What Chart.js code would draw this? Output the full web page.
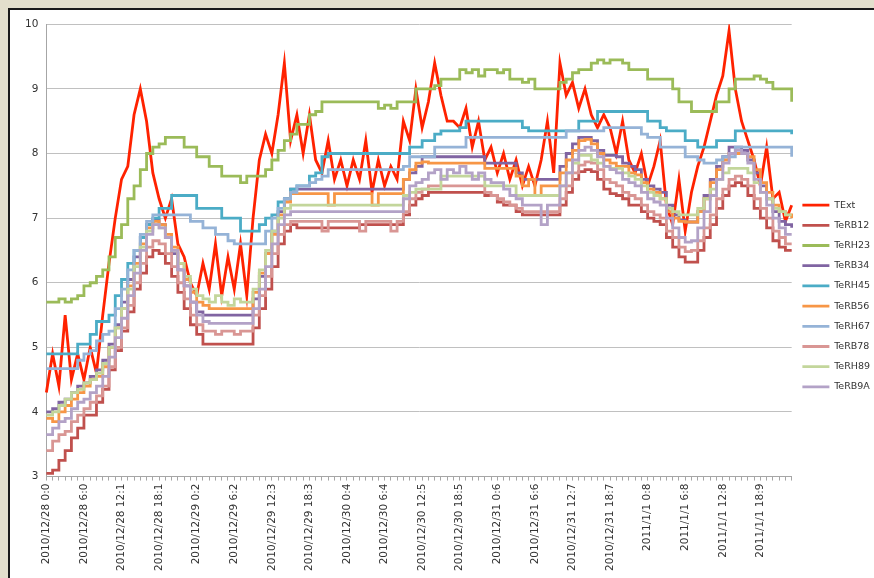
<!DOCTYPE html>
<html>
<head>
<meta charset="utf-8">
<script src="https://cdn.jsdelivr.net/npm/chart.js@4.4.0/dist/chart.umd.min.js"></script>
<style>
  html, body { margin: 0; padding: 0; background: #e3dfcc; overflow: hidden; }
  #frame {
    position: absolute; left: 8px; top: 8px; width: 900px; height: 600px;
    background: #fff; border-left: 2px solid #1a1a1a; border-top: 2px solid #1a1a1a;
  }
  #chart { position: absolute; left: 0; top: 0; }
</style>
</head>
<body>
<div id="frame"><canvas id="chart" width="870" height="568"></canvas></div>
<script>
// Temperature logs, one value per hour, 2010/12/28 0:00 -> 2011/1/1 23:00

const tickLabels = [
    '2010/12/28 0:0', '2010/12/28 6:0', '2010/12/28 12:1', '2010/12/28 18:1',
    '2010/12/29 0:2', '2010/12/29 6:2', '2010/12/29 12:3', '2010/12/29 18:3',
    '2010/12/30 0:4', '2010/12/30 6:4', '2010/12/30 12:5', '2010/12/30 18:5',
    '2010/12/31 0:6', '2010/12/31 6:6', '2010/12/31 12:7', '2010/12/31 18:7',
    '2011/1/1 0:8', '2011/1/1 6:8', '2011/1/1 12:8', '2011/1/1 18:9'
];
const pointsPerLabel = 6;

const seriesNames = ['TExt', 'TeRB12', 'TeRH23', 'TeRB34', 'TeRH45', 'TeRB56', 'TeRH67', 'TeRB78', 'TeRH89', 'TeRB9A'];

const tExt = [
    4.3, 4.9, 4.4, 5.5, 4.5, 4.9, 4.5, 5.0, 4.6, 5.5, 6.3, 7.0,
    7.6, 7.8, 8.6, 9.0, 8.5, 7.7, 7.3, 7.0, 7.3, 6.6, 6.4, 6.0,
    5.8, 6.3, 5.9, 6.6, 5.8, 6.4, 5.9, 6.6, 5.8, 7.0, 7.9, 8.3,
    8.0, 8.6, 9.4, 8.2, 8.6, 8.0, 8.6, 7.9, 7.7, 8.2, 7.6, 7.9,
    7.5, 7.9, 7.6, 8.2, 7.4, 7.9, 7.5, 7.8, 7.6, 8.5, 8.2, 9.0,
    8.4, 8.8, 9.4, 8.9, 8.5, 8.5, 8.4, 8.7, 8.1, 8.5, 7.9, 8.1,
    7.7, 8.0, 7.6, 7.9, 7.5, 7.8, 7.5, 7.9, 8.5, 7.7, 9.4, 8.9,
    9.1, 8.7, 9.0, 8.6, 8.4, 8.6, 8.4, 8.0, 8.5, 7.9, 7.7, 8.0,
    7.5, 7.8, 8.2, 7.2, 6.9, 7.6, 6.8, 7.4, 7.8, 8.1, 8.5, 8.9,
    9.2, 9.9, 9.0, 8.5, 8.2, 7.9, 7.5, 8.1, 7.3, 7.4, 6.95, 7.2
];
const teRB12 = [
    3.05, 3.1, 3.25, 3.4, 3.6, 3.75, 3.95, 3.95, 4.15, 4.35, 4.65, 4.95,
    5.25, 5.55, 5.9, 6.15, 6.4, 6.5, 6.45, 6.3, 6.1, 5.85, 5.6, 5.35,
    5.2, 5.05, 5.05, 5.05, 5.05, 5.05, 5.05, 5.05, 5.05, 5.3, 5.6, 5.9,
    6.25, 6.6, 6.8, 6.9, 6.85, 6.85, 6.85, 6.85, 6.85, 6.85, 6.85, 6.85,
    6.85, 6.85, 6.9, 6.9, 6.9, 6.9, 6.9, 6.9, 6.9, 7.05, 7.2, 7.3,
    7.35, 7.4, 7.4, 7.4, 7.4, 7.4, 7.4, 7.4, 7.4, 7.4, 7.35, 7.35,
    7.25, 7.2, 7.2, 7.1, 7.05, 7.05, 7.05, 7.05, 7.05, 7.05, 7.2, 7.4,
    7.6, 7.72, 7.75, 7.72, 7.6, 7.45, 7.38, 7.35, 7.3, 7.2, 7.2, 7.1,
    7.0, 6.95, 6.9, 6.7, 6.55, 6.4, 6.32, 6.32, 6.5, 6.7, 6.9, 7.15,
    7.35, 7.5, 7.55, 7.5, 7.35, 7.15, 7.0, 6.85, 6.65, 6.55, 6.5, 6.5
];
const teRH23 = [
    5.7, 5.7, 5.75, 5.7, 5.75, 5.8, 5.95, 6.0, 6.1, 6.2, 6.4, 6.7,
    6.9, 7.3, 7.5, 7.75, 8.0, 8.1, 8.15, 8.25, 8.25, 8.25, 8.1, 8.1,
    7.95, 7.95, 7.8, 7.8, 7.65, 7.65, 7.65, 7.55, 7.65, 7.65, 7.65, 7.75,
    7.9, 8.05, 8.2, 8.3, 8.45, 8.45, 8.6, 8.65, 8.8, 8.8, 8.8, 8.8,
    8.8, 8.8, 8.8, 8.8, 8.8, 8.7, 8.75, 8.7, 8.8, 8.8, 8.8, 9.0,
    9.0, 9.0, 9.05, 9.15, 9.15, 9.15, 9.3, 9.25, 9.3, 9.2, 9.3, 9.3,
    9.25, 9.3, 9.15, 9.15, 9.1, 9.15, 9.0, 9.0, 9.0, 9.0, 9.1, 9.15,
    9.25, 9.3, 9.3, 9.4, 9.45, 9.4, 9.45, 9.45, 9.4, 9.3, 9.3, 9.3,
    9.15, 9.15, 9.15, 9.15, 9.0, 8.8, 8.8, 8.65, 8.65, 8.65, 8.65, 8.8,
    8.8, 9.0, 9.15, 9.15, 9.15, 9.2, 9.15, 9.1, 9.0, 9.0, 9.0, 8.8
];
const teRB34 = [
    4.0, 4.05, 4.15, 4.2, 4.3, 4.4, 4.45, 4.55, 4.65, 4.8, 5.05, 5.35,
    5.7, 6.05, 6.4, 6.7, 6.9, 6.97, 6.9, 6.7, 6.45, 6.2, 5.95, 5.7,
    5.55, 5.5, 5.5, 5.5, 5.5, 5.5, 5.5, 5.5, 5.5, 5.75, 6.1, 6.45,
    6.8, 7.1, 7.3, 7.45, 7.45, 7.45, 7.45, 7.45, 7.45, 7.45, 7.45, 7.45,
    7.45, 7.45, 7.45, 7.45, 7.45, 7.45, 7.45, 7.45, 7.45, 7.6, 7.7, 7.8,
    7.95, 7.95, 7.95, 7.95, 7.95, 7.95, 7.95, 7.95, 7.95, 7.95, 7.85, 7.85,
    7.85, 7.85, 7.85, 7.7, 7.6, 7.6, 7.6, 7.6, 7.6, 7.6, 7.8, 8.0,
    8.15, 8.25, 8.25, 8.2, 8.05, 7.97, 7.97, 7.95, 7.85, 7.8, 7.75, 7.6,
    7.5, 7.45, 7.4, 7.2, 7.05, 6.97, 6.94, 6.94, 7.1, 7.35, 7.6, 7.8,
    7.95, 8.1, 8.1, 8.05, 7.9, 7.7, 7.5, 7.3, 7.1, 6.95, 6.9, 6.85
];
const teRH45 = [
    4.9, 4.9, 4.9, 4.9, 4.9, 5.05, 5.05, 5.2, 5.4, 5.4, 5.5, 5.8,
    6.05, 6.3, 6.5, 6.7, 6.9, 7.0, 7.15, 7.15, 7.35, 7.35, 7.35, 7.35,
    7.15, 7.15, 7.15, 7.15, 7.0, 7.0, 7.0, 6.8, 6.8, 6.8, 6.9, 7.0,
    7.05, 7.25, 7.3, 7.45, 7.5, 7.5, 7.65, 7.7, 7.95, 8.0, 8.0, 8.0,
    8.0, 8.0, 8.0, 8.0, 8.0, 8.0, 8.0, 8.0, 8.0, 8.0, 8.1, 8.1,
    8.2, 8.2, 8.3, 8.35, 8.35, 8.35, 8.4, 8.5, 8.5, 8.5, 8.5, 8.5,
    8.5, 8.5, 8.5, 8.5, 8.4, 8.35, 8.35, 8.35, 8.35, 8.35, 8.35, 8.35,
    8.35, 8.5, 8.5, 8.5, 8.65, 8.65, 8.65, 8.65, 8.65, 8.65, 8.65, 8.65,
    8.5, 8.5, 8.4, 8.35, 8.35, 8.35, 8.2, 8.2, 8.1, 8.1, 8.1, 8.2,
    8.2, 8.2, 8.35, 8.35, 8.35, 8.35, 8.35, 8.35, 8.35, 8.35, 8.35, 8.3
];
const teRB56 = [
    3.9, 3.85, 4.0, 4.1, 4.2, 4.3, 4.4, 4.5, 4.55, 4.7, 5.0, 5.3,
    5.6, 5.95, 6.3, 6.6, 6.85, 6.95, 6.9, 6.75, 6.55, 6.3, 6.05, 5.85,
    5.7, 5.65, 5.6, 5.6, 5.6, 5.6, 5.6, 5.6, 5.6, 5.85, 6.15, 6.45,
    6.75, 7.05, 7.25, 7.38, 7.38, 7.38, 7.38, 7.38, 7.38, 7.2, 7.38, 7.38,
    7.38, 7.38, 7.38, 7.38, 7.2, 7.38, 7.38, 7.38, 7.38, 7.6, 7.75, 7.85,
    7.87, 7.85, 7.85, 7.85, 7.85, 7.85, 7.85, 7.85, 7.85, 7.85, 7.77, 7.77,
    7.77, 7.77, 7.77, 7.65, 7.5, 7.6, 7.35, 7.5, 7.5, 7.5, 7.7, 7.9,
    8.05, 8.2, 8.22, 8.15, 8.0, 7.9, 7.85, 7.8, 7.8, 7.7, 7.67, 7.55,
    7.45, 7.4, 7.3, 7.1, 7.0, 6.95, 6.94, 6.94, 7.1, 7.3, 7.55, 7.75,
    7.9, 8.0, 8.0, 8.0, 7.95, 7.75, 7.55, 7.4, 7.2, 7.1, 7.05, 7.0
];
const teRH67 = [
    4.67, 4.67, 4.67, 4.67, 4.67, 4.8, 4.9, 4.95, 5.1, 5.2, 5.25, 5.6,
    5.9, 6.2, 6.5, 6.75, 6.95, 7.05, 7.05, 7.05, 7.05, 7.05, 7.05, 6.95,
    6.95, 6.85, 6.85, 6.75, 6.75, 6.65, 6.6, 6.6, 6.6, 6.6, 6.6, 6.8,
    7.0, 7.15, 7.3, 7.4, 7.5, 7.5, 7.55, 7.6, 7.65, 7.75, 7.75, 7.75,
    7.75, 7.75, 7.75, 7.75, 7.75, 7.75, 7.75, 7.75, 7.75, 7.8, 7.95, 7.95,
    7.95, 7.95, 8.1, 8.1, 8.1, 8.1, 8.1, 8.25, 8.25, 8.25, 8.25, 8.25,
    8.25, 8.25, 8.25, 8.25, 8.25, 8.25, 8.25, 8.25, 8.25, 8.25, 8.25, 8.35,
    8.35, 8.35, 8.35, 8.35, 8.35, 8.4, 8.4, 8.4, 8.4, 8.4, 8.4, 8.3,
    8.25, 8.25, 8.1, 8.1, 8.1, 8.1, 7.95, 7.95, 7.9, 7.85, 7.85, 7.9,
    7.95, 7.95, 8.1, 8.1, 8.1, 8.1, 8.1, 8.1, 8.1, 8.1, 8.1, 7.95
];
const teRB78 = [
    3.4, 3.55, 3.65, 3.7, 3.85, 3.95, 4.05, 4.15, 4.25, 4.4, 4.7, 5.0,
    5.3, 5.65, 6.0, 6.3, 6.55, 6.65, 6.6, 6.45, 6.25, 6.0, 5.75, 5.5,
    5.35, 5.25, 5.25, 5.2, 5.25, 5.25, 5.2, 5.25, 5.25, 5.5, 5.8, 6.1,
    6.45, 6.75, 6.9, 6.95, 6.95, 6.95, 6.95, 6.95, 6.8, 6.95, 6.95, 6.95,
    6.95, 6.95, 6.8, 6.95, 6.95, 6.95, 6.95, 6.8, 6.95, 7.1, 7.3, 7.4,
    7.45, 7.5, 7.5, 7.5, 7.5, 7.5, 7.5, 7.5, 7.5, 7.5, 7.4, 7.35,
    7.3, 7.25, 7.2, 7.15, 7.1, 7.1, 7.1, 7.1, 7.1, 7.1, 7.3, 7.5,
    7.7, 7.82, 7.87, 7.85, 7.75, 7.6, 7.55, 7.5, 7.4, 7.35, 7.3, 7.2,
    7.1, 7.05, 7.0, 6.8, 6.7, 6.55, 6.48, 6.5, 6.65, 6.85, 7.05, 7.3,
    7.45, 7.6, 7.65, 7.6, 7.5, 7.3, 7.15, 7.0, 6.8, 6.7, 6.6, 6.6
];
const teRH89 = [
    3.95, 4.0, 4.1, 4.2, 4.3, 4.35, 4.45, 4.5, 4.6, 4.75, 5.0, 5.3,
    5.6, 5.9, 6.25, 6.55, 6.8, 6.9, 6.85, 6.7, 6.5, 6.3, 6.1, 5.9,
    5.8, 5.75, 5.7, 5.8, 5.7, 5.65, 5.75, 5.7, 5.7, 5.9, 6.2, 6.5,
    6.8, 7.0, 7.15, 7.2, 7.2, 7.2, 7.2, 7.2, 7.2, 7.2, 7.2, 7.2,
    7.2, 7.2, 7.2, 7.2, 7.2, 7.2, 7.2, 7.2, 7.2, 7.35, 7.4, 7.45,
    7.45, 7.45, 7.45, 7.65, 7.65, 7.65, 7.65, 7.65, 7.65, 7.65, 7.5, 7.5,
    7.5, 7.5, 7.5, 7.35, 7.35, 7.35, 7.35, 7.35, 7.35, 7.35, 7.5, 7.7,
    7.85, 7.97, 7.97, 7.9, 7.85, 7.8, 7.77, 7.77, 7.7, 7.65, 7.6, 7.5,
    7.4, 7.35, 7.3, 7.15, 7.1, 7.05, 7.05, 7.05, 7.15, 7.3, 7.45, 7.6,
    7.7, 7.77, 7.77, 7.77, 7.7, 7.55, 7.4, 7.3, 7.15, 7.1, 7.05, 7.05
];
const teRB9A = [
    3.65, 3.75, 3.85, 3.9, 4.05, 4.15, 4.2, 4.3, 4.4, 4.55, 4.85, 5.15,
    5.45, 5.8, 6.15, 6.5, 6.75, 6.9, 6.85, 6.7, 6.5, 6.2, 5.95, 5.7,
    5.5, 5.4, 5.37, 5.37, 5.37, 5.37, 5.37, 5.37, 5.37, 5.6, 5.9, 6.25,
    6.6, 6.9, 7.05, 7.1, 7.1, 7.1, 7.1, 7.1, 7.1, 7.1, 7.1, 7.1,
    7.1, 7.1, 7.1, 7.1, 7.1, 7.1, 7.1, 7.1, 7.1, 7.3, 7.5, 7.55,
    7.6, 7.7, 7.75, 7.6, 7.75, 7.7, 7.8, 7.7, 7.6, 7.7, 7.6, 7.55,
    7.55, 7.45, 7.35, 7.3, 7.2, 7.2, 7.2, 6.9, 7.2, 7.2, 7.5, 7.7,
    7.9, 8.05, 8.1, 8.05, 7.95, 7.8, 7.75, 7.7, 7.6, 7.55, 7.5, 7.4,
    7.3, 7.25, 7.2, 7.0, 6.85, 6.7, 6.63, 6.65, 6.85, 7.1, 7.35, 7.6,
    7.85, 8.0, 8.05, 8.0, 7.85, 7.6, 7.4, 7.2, 7.0, 6.85, 6.75, 6.75
];

const seriesValues = [tExt, teRB12, teRH23, teRB34, teRH45, teRB56, teRH67, teRB78, teRH89, teRB9A];
const seriesColors = ['#ff2200', '#c0504d', '#9bbb59', '#8064a2', '#4bacc6', '#f79646', '#95b3d7', '#d99694', '#c3d69b', '#b3a2c7'];

// one category per hour, only every 6th gets a printed label
const categories = [];
tickLabels.forEach(t => {
    categories.push(t);
    for (let k = 1; k < pointsPerLabel; k++) categories.push('');
});

const FONT = 'DejaVu Sans, Verdana, sans-serif';

new Chart(document.getElementById('chart'), {
    type: 'line',
    data: {
        labels: categories,
        datasets: seriesNames.map((name, i) => ({
            label: name,
            data: seriesValues[i],
            borderColor: seriesColors[i],
            backgroundColor: seriesColors[i],
            borderWidth: 2.8,
            pointRadius: 0,
            tension: 0,
            stepped: i === 0 ? false : 'before',
            order: seriesNames.length - i   // later series drawn on top, like Excel
        }))
    },
    options: {
        responsive: false,
        animation: false,
        layout: { padding: { left: 7, top: 8, right: 0, bottom: 4 } },
        plugins: {
            tooltip: { enabled: false },
            legend: {
                position: 'right',
                labels: {
                    usePointStyle: true,
                    pointStyle: 'line',
                    pointStyleWidth: 27,
                    padding: 10.7,
                    color: '#333',
                    font: { family: FONT, size: 9.5 },
                    sort: (a, b) => a.datasetIndex - b.datasetIndex
                }
            }
        },
        scales: {
            x: {
                offset: false,
                grid: { drawOnChartArea: false, drawTicks: true, tickLength: 4, color: '#a6a6a6' },
                border: { color: '#a6a6a6' },
                ticks: {
                    autoSkip: false,
                    maxRotation: 90,
                    minRotation: 90,
                    padding: 3,
                    color: '#333',
                    font: { family: FONT, size: 10.5 }
                }
            },
            y: {
                min: 3,
                max: 10,
                grid: { color: '#c0c0c0', drawTicks: false },
                border: { color: '#a6a6a6' },
                ticks: {
                    stepSize: 1,
                    padding: 8,
                    color: '#333',
                    font: { family: FONT, size: 10.5 }
                }
            }
        }
    }
});
</script>
</body>
</html>
